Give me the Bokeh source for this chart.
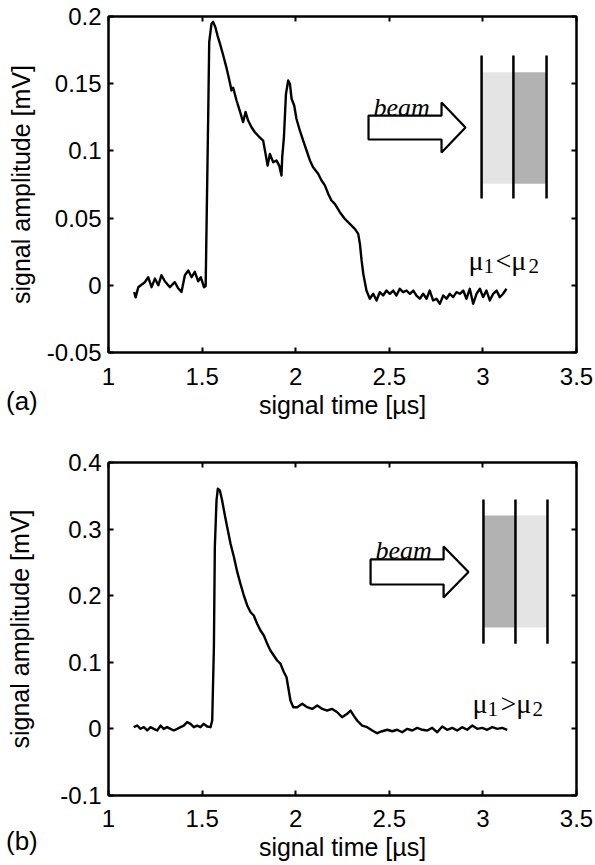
from bokeh.plotting import figure
from bokeh.models import FixedTicker, LinearAxis, Range1d, Div
from bokeh.layouts import column
from bokeh.embed import file_html
from bokeh.resources import INLINE
from bokeh.core.properties import value

# ---------------- data ----------------
time_a = [1.137, 1.145, 1.159, 1.194, 1.212, 1.23, 1.248, 1.266, 1.283, 1.301,
          1.328, 1.354, 1.372, 1.39, 1.408, 1.426, 1.444, 1.461, 1.479, 1.493,
          1.51, 1.519, 1.533, 1.538, 1.55, 1.559, 1.571, 1.582, 1.595, 1.613,
          1.63, 1.648, 1.657, 1.666, 1.684, 1.701, 1.719, 1.732, 1.746, 1.764,
          1.782, 1.808, 1.826, 1.839, 1.85, 1.862, 1.88, 1.897, 1.912, 1.924,
          1.928, 1.937, 1.948, 1.96, 1.969, 1.978, 1.992, 2.004, 2.022, 2.04,
          2.058, 2.076, 2.093, 2.12, 2.138, 2.156, 2.174, 2.191, 2.209, 2.236,
          2.262, 2.289, 2.316, 2.334, 2.343, 2.352, 2.361, 2.378, 2.396, 2.414,
          2.432, 2.449, 2.467, 2.485, 2.503, 2.521, 2.538, 2.556, 2.574, 2.592,
          2.61, 2.628, 2.645, 2.663, 2.681, 2.699, 2.716, 2.734, 2.752, 2.77,
          2.788, 2.806, 2.823, 2.841, 2.859, 2.877, 2.895, 2.912, 2.93, 2.948,
          2.966, 2.984, 3.001, 3.019, 3.037, 3.055, 3.073, 3.09, 3.108, 3.126]
amp_a = [-0.005, -0.009, -0.0014, 0.0023, 0.006, -0.0014, 0.005, 0.0, 0.0075, 0.003,
         -0.0014, 0.0023, -0.0022, -0.005, 0.0075, 0.011, 0.006, 0.010, 0.003, 0.006,
         -0.0014, -0.0005, 0.130, 0.181, 0.1945, 0.196, 0.192, 0.186, 0.180, 0.171,
         0.162, 0.151, 0.145, 0.147, 0.1375, 0.130, 0.1214, 0.129, 0.1226, 0.1176,
         0.1139, 0.110, 0.1077, 0.0978, 0.0891, 0.0978, 0.0916, 0.0929, 0.0891, 0.0817,
         0.0953, 0.110, 0.1425, 0.1524, 0.150, 0.1388, 0.1338, 0.1239, 0.1152, 0.1077,
         0.1003, 0.0929, 0.0879, 0.083, 0.078, 0.0743, 0.068, 0.0631, 0.0606, 0.0544,
         0.0495, 0.0457, 0.042, 0.0383, 0.0308, 0.0185, 0.0086, -0.0039, -0.010, -0.0063,
         -0.0113, -0.0051, -0.0076, -0.0039, -0.0063, -0.0039, -0.0076, -0.0026, -0.0051, -0.0039,
         -0.0063, -0.0039, -0.0076, -0.010, -0.0063, -0.010, -0.0039, -0.0113, -0.010, -0.0138,
         -0.0076, -0.010, -0.0063, -0.0088, -0.0051, -0.0063, -0.0039, -0.010, -0.0026, -0.0138,
         -0.0063, -0.0026, -0.0088, -0.0039, -0.0113, -0.0063, -0.0039, -0.0088, -0.0063, -0.0026]

time_b = [1.135, 1.153, 1.171, 1.189, 1.207, 1.224, 1.242, 1.26, 1.278, 1.295,
          1.313, 1.331, 1.349, 1.367, 1.385, 1.402, 1.42, 1.438, 1.456, 1.474,
          1.491, 1.509, 1.527, 1.545, 1.554, 1.563, 1.568, 1.577, 1.584, 1.595,
          1.607, 1.62, 1.634, 1.652, 1.67, 1.688, 1.705, 1.723, 1.741, 1.759,
          1.776, 1.794, 1.812, 1.83, 1.848, 1.865, 1.883, 1.901, 1.919, 1.937,
          1.951, 1.963, 1.972, 1.987, 2.008, 2.035, 2.061, 2.088, 2.115, 2.142,
          2.168, 2.195, 2.222, 2.248, 2.275, 2.293, 2.31, 2.328, 2.355, 2.382,
          2.409, 2.435, 2.462, 2.489, 2.516, 2.542, 2.569, 2.596, 2.623, 2.649,
          2.676, 2.703, 2.729, 2.756, 2.783, 2.809, 2.836, 2.863, 2.889, 2.916,
          2.943, 2.97, 2.996, 3.023, 3.05, 3.077, 3.103, 3.13]
amp_b = [0.0026, 0.0051, 0.0002, 0.0026, -0.0024, 0.0026, 0.0, -0.0024, 0.005, 0.0,
         0.0026, 0.0, -0.0024, 0.0, 0.0026, 0.005, 0.0101, 0.0076, 0.0026, 0.005,
         0.0026, 0.0076, 0.0036, 0.0026, 0.0126, 0.1227, 0.2729, 0.343, 0.3605, 0.358,
         0.343, 0.323, 0.303, 0.278, 0.258, 0.2353, 0.2178, 0.2003, 0.1853, 0.1752,
         0.1703, 0.1578, 0.1477, 0.1402, 0.1277, 0.1177, 0.1102, 0.1027, 0.0977, 0.0851,
         0.0776, 0.0577, 0.0426, 0.0326, 0.0326, 0.0377, 0.0326, 0.030, 0.0351, 0.030,
         0.0276, 0.030, 0.025, 0.0175, 0.0226, 0.0276, 0.020, 0.0126, 0.005, 0.0026,
         -0.0024, -0.0065, -0.0035, -0.0013, -0.0035, -0.0013, -0.005, 0.0001, -0.0024, 0.0016,
         -0.0013, -0.0024, 0.0016, -0.005, 0.0036, -0.0013, 0.0016, -0.0024, 0.0026, -0.0013,
         0.005, 0.0001, 0.0016, -0.0013, 0.0026, 0.0, 0.0016, -0.0013]

x_ticks = [1, 1.5, 2, 2.5, 3, 3.5]
x_tick_labels = ["1", "1.5", "2", "2.5", "3", "3.5"]
y_ticks_a = [-0.05, 0, 0.05, 0.1, 0.15, 0.2]
y_tick_labels_a = ["-0.05", "0", "0.05", "0.1", "0.15", "0.2"]
y_ticks_b = [-0.1, 0, 0.1, 0.2, 0.3, 0.4]
y_tick_labels_b = ["-0.1", "0", "0.1", "0.2", "0.3", "0.4"]

SANS = "Liberation Sans"
SERIF = "Liberation Serif"


def style_axis(ax, ticks, labels=None, show=True):
    ax.ticker = FixedTicker(ticks=ticks)
    ax.axis_line_color = "black"
    ax.axis_line_width = 2
    ax.major_tick_line_color = "black"
    ax.major_tick_line_width = 2
    ax.major_tick_in = 5
    ax.major_tick_out = 0
    ax.minor_tick_line_color = None
    if show:
        ax.major_label_overrides = {t: l for t, l in zip(ticks, labels)}
        ax.major_label_text_font = SANS
        ax.major_label_text_font_size = "24px"
        ax.major_label_text_color = "black"
        ax.axis_label_text_font = SANS
        ax.axis_label_text_font_size = "25px"
        ax.axis_label_text_font_style = "normal"
        ax.axis_label_text_color = "black"
    else:
        ax.major_label_text_font_size = "1px"
        ax.major_label_text_color = None
        ax.major_label_text_alpha = 0
        ax.major_label_standoff = 0


def make_panel(t, amp, yr, yt, ytl, left, right, top, bottom, fh,
               xl_std, xa_std, yl_std, ya_std):
    p = figure(frame_width=468, frame_height=fh,
               x_range=Range1d(1, 3.5), y_range=Range1d(*yr),
               output_backend="svg", toolbar_location=None,
               min_border_left=left, min_border_right=right,
               min_border_top=top, min_border_bottom=bottom,
               x_axis_label="signal time [\u00b5s]",
               y_axis_label="signal amplitude [mV]")
    p.background_fill_color = "white"
    p.border_fill_color = "white"
    p.outline_line_color = "black"
    p.outline_line_width = 2
    p.xgrid.grid_line_color = None
    p.ygrid.grid_line_color = None
    style_axis(p.xaxis[0], x_ticks, x_tick_labels)
    style_axis(p.yaxis[0], yt, ytl)
    p.xaxis[0].major_label_standoff = xl_std
    p.xaxis[0].axis_label_standoff = xa_std
    p.yaxis[0].major_label_standoff = yl_std
    p.yaxis[0].axis_label_standoff = ya_std
    top_ax = LinearAxis()
    right_ax = LinearAxis()
    style_axis(top_ax, x_ticks, show=False)
    style_axis(right_ax, yt, show=False)
    p.add_layout(top_ax, "above")
    p.add_layout(right_ax, "right")
    p.line(t, amp, line_color="black", line_width=2.4, line_join="round")
    return p


def add_inset(p, lines_x, line_y, rect_y, fills, arrow_x, arrow_y, beam_xy, mu_x, mu_y, mu_txt):
    # slab shading
    p.quad(left=lines_x[:2], right=lines_x[1:], bottom=[rect_y[0]] * 2, top=[rect_y[1]] * 2,
           fill_color=fills, line_color=None)
    p.segment(x0=lines_x, x1=lines_x, y0=[line_y[0]] * 3, y1=[line_y[1]] * 3,
              line_color="black", line_width=2.5)
    p.patch(arrow_x, arrow_y, fill_color="white", line_color="black", line_width=2.2)
    p.text(x=[beam_xy[0]], y=[beam_xy[1]], text=["beam"], text_font=value(SERIF),
           text_font_size="26px", text_font_style="italic", text_baseline="alphabetic",
           text_align="left", text_color="black")
    p.text(x=[mu_x[0], mu_x[2]], y=[mu_y[0], mu_y[0]], text=[mu_txt[0], mu_txt[2]],
           text_font=value(SERIF), text_font_size="28px", text_baseline="alphabetic",
           text_align="left", text_color="black")
    p.text(x=[mu_x[1], mu_x[3]], y=[mu_y[1], mu_y[1]], text=[mu_txt[1], mu_txt[3]],
           text_font=value(SERIF), text_font_size="21px", text_baseline="alphabetic",
           text_align="left", text_color="black")


pa = make_panel(time_a, amp_a, (-0.05, 0.2), y_ticks_a, y_tick_labels_a,
                left=107, right=20, top=16, bottom=82, fh=336,
                xl_std=15, xa_std=3, yl_std=7, ya_std=9)
add_inset(pa, [2.993, 3.163, 3.34], (0.0646, 0.171), (0.0755, 0.1586), ["#e4e4e4", "#b2b2b2"],
          [2.389, 2.779, 2.779, 2.907, 2.779, 2.779, 2.389],
          [0.1263, 0.1263, 0.136, 0.1174, 0.0988, 0.1085, 0.1085],
          (2.416, 0.1323),
          [2.923, 3.003, 3.067, 3.244], [0.0187, 0.0147],
          ["\u03bc", "1", "<\u03bc", "2"])

pb = make_panel(time_b, amp_b, (-0.1, 0.4), y_ticks_b, y_tick_labels_b,
                left=108, right=19, top=28, bottom=70, fh=333,
                xl_std=14, xa_std=3, yl_std=7, ya_std=23)
add_inset(pb, [3.003, 3.174, 3.345], (0.128, 0.3444), (0.1523, 0.3204), ["#b2b2b2", "#e4e4e4"],
          [2.40, 2.79, 2.79, 2.923, 2.79, 2.79, 2.40],
          [0.2544, 0.2544, 0.2739, 0.2356, 0.1973, 0.2168, 0.2168],
          (2.426, 0.2679),
          [2.944, 3.024, 3.094, 3.265], [0.0387, 0.0306],
          ["\u03bc", "1", ">\u03bc", "2"])

panel_css = "font-family:'Liberation Sans';font-size:26px;line-height:30px;color:black;margin:0;padding:0"
label_a = Div(text='<div style="%s">(a)</div>' % panel_css, width=50, height=30,
              margin=(-48, 0, 18, 6))
label_b = Div(text='<div style="%s">(b)</div>' % panel_css, width=50, height=30,
              margin=(-39, 0, 9, 6))

layout = column(pa, label_a, pb, label_b)
open("out.html", "w").write(file_html(layout, INLINE))
